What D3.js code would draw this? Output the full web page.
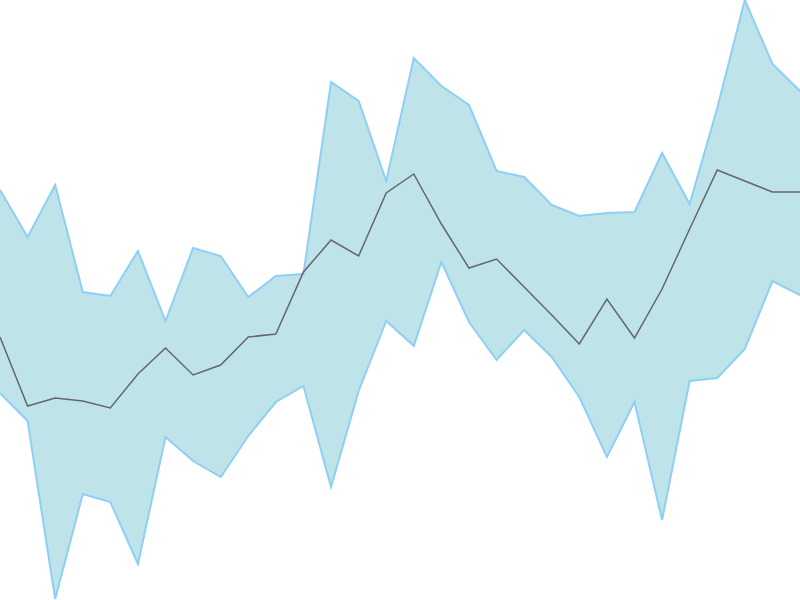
<!DOCTYPE html>
<html><head><meta charset="utf-8">
<script src="https://cdn.jsdelivr.net/npm/d3@7"></script>
<style>html,body{margin:0;padding:0;background:#fff;}svg{display:block;}</style>
</head><body>
<svg id="chart" width="800" height="600"></svg>
<script>
const idx = d3.range(30);
const upper = [410,363,415,308,304,349,279,352,344,303,324,326,518,499,419,542,514,495,429,423,395,384,387,388,447,396,492,600,536,509];
const lower = [207,179,1,106,98,36,163,139,123,164,198,214,113,209,279,254,338,278,240,270,243,203,143,198,80,219,222,251,319,305];
const middle = [263,194,202,199,192,226,252,225,235,263,266,328,360,344,407,426,376,332,341,313,285,256,301,262,311,371,430,419,408,408];

const svg = d3.select("#chart");
const x = d3.scaleLinear().domain([0, 29]).range([0, 800]);
const y = d3.scaleLinear().domain([0, 600]).range([600, 0]);

const area = d3.area().x(i => x(i)).y0(i => y(lower[i])).y1(i => y(upper[i]));
svg.append("path").datum(idx).attr("d", area).attr("fill", "#bee4e9");

const line = arr => d3.line().x(i => x(i)).y(i => y(arr[i]));
svg.append("path").datum(idx).attr("d", line(upper)).attr("fill", "none").attr("stroke", "#8ecff5").attr("stroke-width", 2);
svg.append("path").datum(idx).attr("d", line(lower)).attr("fill", "none").attr("stroke", "#8ecff5").attr("stroke-width", 2);
svg.append("path").datum(idx).attr("d", line(middle)).attr("fill", "none").attr("stroke", "#666").attr("stroke-width", 1.5);
</script>
</body></html>
